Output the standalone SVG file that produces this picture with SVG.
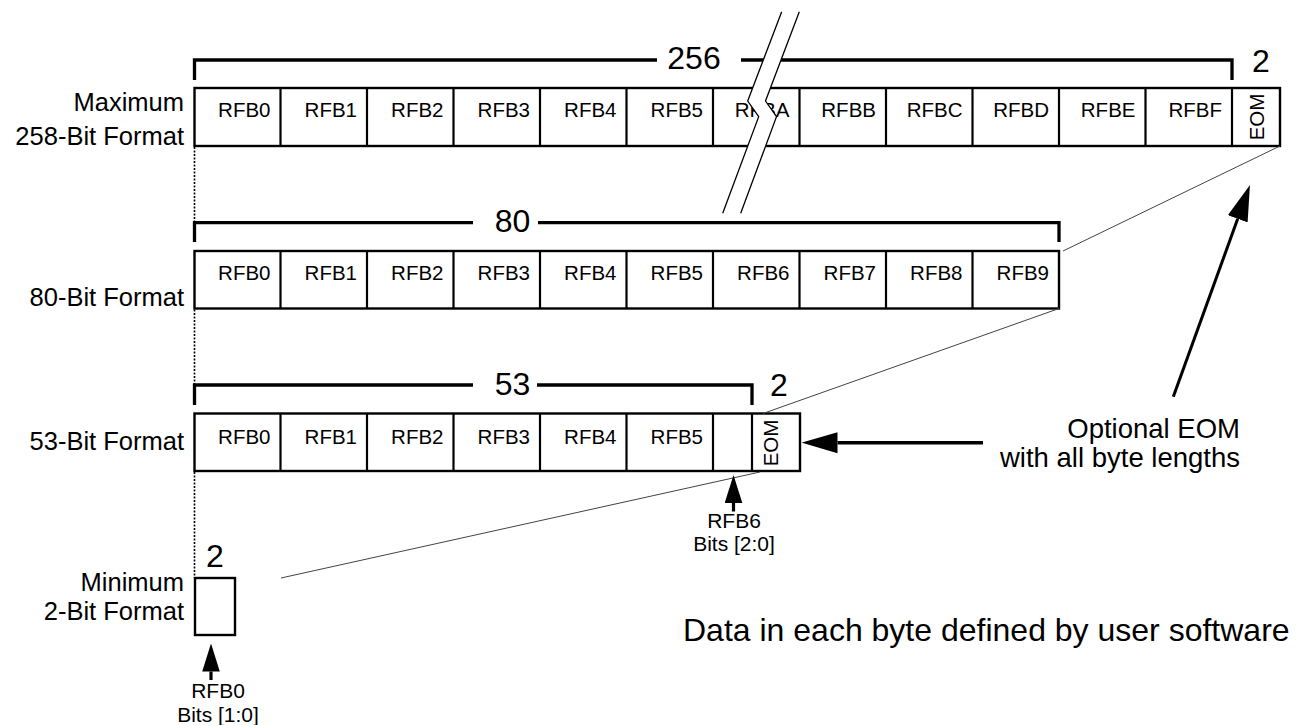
<svg xmlns="http://www.w3.org/2000/svg" width="1302" height="725" viewBox="0 0 1302 725">
<style>
text{font-family:"Liberation Sans",Arial,Helvetica,sans-serif;fill:#000}
.cell{font-size:20.5px;text-anchor:end}
.lbl{font-size:25.5px;text-anchor:end}
.num{font-size:32px;text-anchor:middle}
.sm{font-size:21px;text-anchor:middle}
.eom{font-size:20.5px;text-anchor:middle}
.note{font-size:27.5px;text-anchor:end}
.box{fill:#fff;stroke:#000;stroke-width:2.4}
.div{stroke:#000;stroke-width:2.2}
.br{fill:none;stroke:#000;stroke-width:3.3}
.dot{stroke:#000;stroke-width:1.6;stroke-dasharray:2 1.5}
.thin{stroke:#444;stroke-width:1;fill:none}
.brk{fill:none;stroke:#000;stroke-width:1.3}
</style>
<defs>
<marker id="ahBig" markerUnits="userSpaceOnUse" markerWidth="36" markerHeight="22" viewBox="0 -11 36 22" refX="0" refY="0" orient="auto"><path d="M0,-10.5 L36,0 L0,10.5 z" fill="#000"/></marker>
<marker id="ahSm" markerUnits="userSpaceOnUse" markerWidth="28" markerHeight="18" viewBox="0 -9 28 18" refX="0" refY="0" orient="auto"><path d="M0,-8.8 L28,0 L0,8.8 z" fill="#000"/></marker>
</defs>

<g id="labels-left">
<text class="lbl" x="184" y="111">Maximum</text>
<text class="lbl" x="184" y="145">258-Bit Format</text>
<text class="lbl" x="184" y="306">80-Bit Format</text>
<text class="lbl" x="184" y="450">53-Bit Format</text>
<text class="lbl" x="184" y="591">Minimum</text>
<text class="lbl" x="184" y="620">2-Bit Format</text>
</g>

<g id="row-258">
<path class="br" d="M194.5,80 V60 H657 M741,60 H1232 V80"/>
<text class="num" x="694" y="69">256</text>
<text class="num" x="1261" y="72">2</text>
<rect class="box" x="194.5" y="88" width="1085.5" height="58"/>
<path class="div" d="M280.5,88V146 M367,88V146 M453.5,88V146 M540,88V146 M626.5,88V146 M713,88V146 M799.5,88V146 M886,88V146 M972.5,88V146 M1059,88V146 M1145.5,88V146 M1232,88V146"/>
<text class="cell" x="270.5" y="117">RFB0</text>
<text class="cell" x="357" y="117">RFB1</text>
<text class="cell" x="443.5" y="117">RFB2</text>
<text class="cell" x="530" y="117">RFB3</text>
<text class="cell" x="616.5" y="117">RFB4</text>
<text class="cell" x="703" y="117">RFB5</text>
<text class="cell" x="789.5" y="117">RFBA</text>
<text class="cell" x="876" y="117">RFBB</text>
<text class="cell" x="962.5" y="117">RFBC</text>
<text class="cell" x="1049" y="117">RFBD</text>
<text class="cell" x="1135.5" y="117">RFBE</text>
<text class="cell" x="1222" y="117">RFBF</text>
<text class="eom" transform="translate(1264,117) rotate(-90)">EOM</text>
</g>

<g id="break">
<polygon points="781.7,11.7 747.7,101 758.7,116.7 722.7,213.3 740.7,213.3 776.5,116.7 765.5,101 799.3,11.7" fill="#fff"/>
<polyline class="brk" points="781.7,11.7 747.7,101 758.7,116.7 722.7,213.3"/>
<polyline class="brk" points="799.3,11.7 765.5,101 776.5,116.7 740.7,213.3"/>
</g>

<g id="row-80">
<path class="br" d="M194.5,242 V222.7 H473 M538,222.7 H1059 V242"/>
<text class="num" x="512.5" y="231.5">80</text>
<rect class="box" x="194.5" y="251" width="864.5" height="57.5"/>
<path class="div" d="M280.5,251V308.5 M367,251V308.5 M453.5,251V308.5 M540,251V308.5 M626.5,251V308.5 M713,251V308.5 M799.5,251V308.5 M886,251V308.5 M972.5,251V308.5"/>
<text class="cell" x="270.5" y="280">RFB0</text>
<text class="cell" x="357" y="280">RFB1</text>
<text class="cell" x="443.5" y="280">RFB2</text>
<text class="cell" x="530" y="280">RFB3</text>
<text class="cell" x="616.5" y="280">RFB4</text>
<text class="cell" x="703" y="280">RFB5</text>
<text class="cell" x="789.5" y="280">RFB6</text>
<text class="cell" x="876" y="280">RFB7</text>
<text class="cell" x="962.5" y="280">RFB8</text>
<text class="cell" x="1049" y="280">RFB9</text>
</g>

<g id="row-53">
<path class="br" d="M194.5,405 V385 H473 M537,385 H752 V405"/>
<text class="num" x="512.5" y="395">53</text>
<text class="num" x="779" y="396">2</text>
<rect class="box" x="194.5" y="413.5" width="605.5" height="57.5"/>
<path class="div" d="M280.5,413.5V471 M367,413.5V471 M453.5,413.5V471 M540,413.5V471 M626.5,413.5V471 M713,413.5V471 M752,413.5V471"/>
<text class="cell" x="270.5" y="444">RFB0</text>
<text class="cell" x="357" y="444">RFB1</text>
<text class="cell" x="443.5" y="444">RFB2</text>
<text class="cell" x="530" y="444">RFB3</text>
<text class="cell" x="616.5" y="444">RFB4</text>
<text class="cell" x="703" y="444">RFB5</text>
<text class="eom" transform="translate(778,443) rotate(-90)">EOM</text>
</g>

<g id="row-2">
<text class="num" x="215" y="567">2</text>
<rect class="box" x="195" y="578" width="40" height="57"/>
</g>

<g id="connectors">
<line class="dot" x1="194.5" y1="147" x2="194.5" y2="222"/>
<line class="dot" x1="194.5" y1="309.5" x2="194.5" y2="385"/>
<line class="dot" x1="194.5" y1="472" x2="194.5" y2="578"/>
<line class="thin" x1="1280" y1="146" x2="1063" y2="251"/>
<line class="thin" x1="1059" y1="308.5" x2="763" y2="413.5"/>
<line class="thin" x1="760" y1="472" x2="281" y2="578"/>
<line x1="983" y1="442.7" x2="837.5" y2="442.7" stroke="#000" stroke-width="3.5" marker-end="url(#ahBig)"/>
<line x1="1173.3" y1="396.7" x2="1237.7" y2="218.8" stroke="#000" stroke-width="3" marker-end="url(#ahBig)"/>
<line x1="733.5" y1="511.5" x2="733.5" y2="503" stroke="#000" stroke-width="3.2" marker-end="url(#ahSm)"/>
<line x1="211" y1="680" x2="211" y2="671.5" stroke="#000" stroke-width="3.2" marker-end="url(#ahSm)"/>
</g>

<g id="annotations">
<text class="sm" x="734" y="528">RFB6</text>
<text class="sm" x="734" y="551">Bits [2:0]</text>
<text class="sm" x="218" y="698">RFB0</text>
<text class="sm" x="218" y="721.5">Bits [1:0]</text>
<text class="note" x="1240" y="438">Optional EOM</text>
<text class="note" x="1240" y="467">with all byte lengths</text>
<text x="683" y="641" font-size="32">Data in each byte defined by user software</text>
</g>
</svg>
